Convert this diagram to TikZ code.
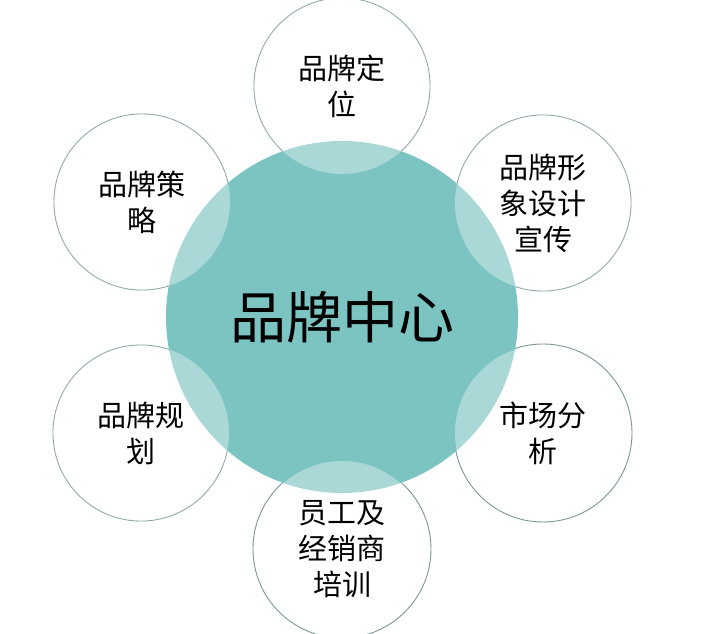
\documentclass[tikz,border=0pt]{standalone}
\usepackage{fontspec}
\newfontfamily\cjk{Noto Sans CJK SC}
\definecolor{teal1}{RGB}{124,196,194}
\definecolor{rimcol}{RGB}{125,150,150}
\begin{document}
\begin{tikzpicture}[x=1pt,y=1pt,
  hub/.style={circle,fill=teal1,minimum size=352pt,inner sep=0pt,
    font=\cjk\fontsize{56}{60}\selectfont,text=black},
  leaf/.style={circle,fill=white,fill opacity=0.35,text opacity=1,
    minimum size=176pt,inner sep=0pt,align=center,
    font=\cjk\fontsize{29}{36}\selectfont,text=black},
  rim/.style={draw=rimcol,line width=0.9pt}]
\useasboundingbox (0,0) rectangle (701,634);
\fill[white] (0,0) rectangle (701,634);
% outer rims (hidden under the hub where they overlap)
\draw[rim] (342,548) circle (88);
\draw[rim] (142,432) circle (88);
\draw[rim] (543,431) circle (88);
\draw[rim] (141,201) circle (88);
\draw[rim] (543,201) circle (89);
\draw[rim] (342,85) circle (89);
% hub
\node[hub] (hub) at (342,317) {品牌中心};
% leaves
\node[leaf] (dingwei) at (342,548) {品牌定\\位};
\node[leaf] (celue) at (142,432) {品牌策\\略};
\node[leaf] (xingxiang) at (543,431) {品牌形\\象设计\\宣传};
\node[leaf] (guihua) at (141,201) {品牌规\\划};
\node[leaf] (shichang) at (543,201) {市场分\\析};
\node[leaf] (peixun) at (342,85) {员工及\\经销商\\培训};
\end{tikzpicture}
\end{document}
